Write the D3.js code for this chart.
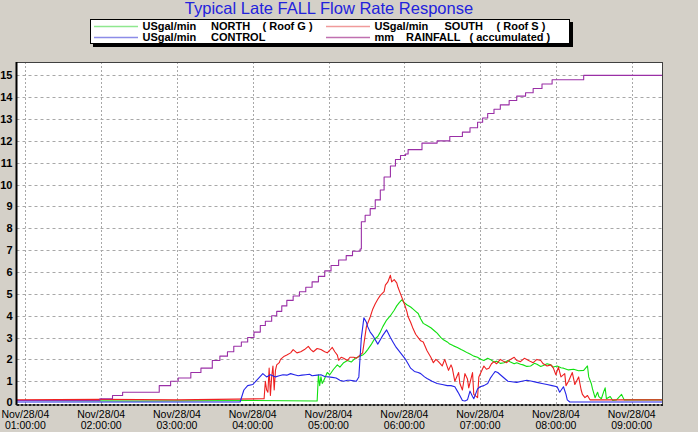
<!DOCTYPE html>
<html>
<head>
<meta charset="utf-8">
<script src="https://cdn.jsdelivr.net/npm/d3@7/dist/d3.min.js"></script>
<style>
  body { margin: 0; background: #d4d0c8; }
  svg { display: block; font-family: Arial, "Liberation Sans", sans-serif; }
</style>
</head>
<body>
<div id="main"></div>
<script>
const DAY = "2004-11-28";
const TITLE = "Typical Late FALL Flow Rate Response";

// legend labels, split in columns (unit, name, note)
const legendLabels = [
    ["USgal/min", "NORTH", "( Roof G )"],
    ["USgal/min", "SOUTH", "( Roof S )"],
    ["USgal/min", "CONTROL", ""],
    ["mm", "RAINFALL", "( accumulated )"]
];

const yTicks = [0, 1, 2, 3, 4, 5, 6, 7, 8, 9, 10, 11, 12, 13, 14, 15];
const xTicks = ["01:00", "02:00", "03:00", "04:00", "05:00", "06:00", "07:00", "08:00", "09:00"];
const timeRange = ["00:53", "09:24"];

// accumulated rainfall (mm), stepped
const rainfall = [
    ["00:53", 0.12], ["01:59", 0.2], ["02:09", 0.35], ["02:17", 0.5], ["02:46", 0.8], ["02:55", 1.0],
    ["03:01", 1.15], ["03:11", 1.4], ["03:19", 1.6], ["03:28", 1.95], ["03:34", 2.15], ["03:40", 2.35],
    ["03:45", 2.6], ["03:51", 2.8], ["03:56", 3.0], ["04:01", 3.25], ["04:06", 3.55], ["04:10", 3.75],
    ["04:15", 4.0], ["04:19", 4.2], ["04:23", 4.45], ["04:27", 4.7], ["04:32", 4.9], ["04:37", 5.1],
    ["04:42", 5.3], ["04:47", 5.55], ["04:52", 5.8], ["04:57", 6.05], ["05:02", 6.3], ["05:08", 6.55],
    ["05:14", 6.75], ["05:19", 6.95], ["05:25", 7.05], ["05:26", 8.3], ["05:29", 8.6], ["05:33", 8.9],
    ["05:37", 9.3], ["05:41", 9.75], ["05:44", 10.35], ["05:49", 10.85], ["05:53", 11.15], ["05:57", 11.33],
    ["06:01", 11.4], ["06:03", 11.6], ["06:14", 11.9], ["06:26", 12.0], ["06:36", 12.2], ["06:46", 12.4],
    ["06:52", 12.6], ["06:58", 12.85], ["07:02", 13.05], ["07:06", 13.25], ["07:11", 13.45], ["07:16", 13.65],
    ["07:23", 13.85], ["07:29", 14.05], ["07:36", 14.2], ["07:42", 14.4], ["07:49", 14.6], ["07:57", 14.8],
    ["08:22", 15.0], ["09:24", 15.0]
];

// NORTH (Roof G) flow, USgal/min
const north = [
    ["00:53", 0.12], ["02:30", 0.1], ["04:00", 0.12], ["04:51", 0.1], ["04:52", 1.3], ["04:53", 0.8],
    ["04:54", 1.2], ["04:55", 0.9], ["04:56", 1.0], ["04:59", 1.4], ["05:01", 1.3], ["05:04", 1.55],
    ["05:07", 1.75], ["05:09", 1.65], ["05:12", 1.85], ["05:15", 1.95], ["05:18", 1.88], ["05:21", 2.05],
    ["05:23", 2.1], ["05:27", 2.2], ["05:29", 2.3], ["05:31", 2.45], ["05:34", 2.7], ["05:36", 2.9],
    ["05:39", 3.05], ["05:41", 3.25], ["05:43", 3.5], ["05:46", 3.8], ["05:49", 4.0], ["05:52", 4.25],
    ["05:54", 4.45], ["05:56", 4.6], ["05:58", 4.73], ["06:00", 4.6], ["06:02", 4.5], ["06:05", 4.4],
    ["06:07", 4.3], ["06:09", 4.2], ["06:11", 4.1], ["06:13", 3.85], ["06:15", 3.65], ["06:18", 3.55],
    ["06:21", 3.45], ["06:24", 3.3], ["06:26", 3.2], ["06:29", 3.0], ["06:31", 2.9], ["06:34", 2.8],
    ["06:36", 2.7], ["06:39", 2.62], ["06:42", 2.55], ["06:45", 2.45], ["06:47", 2.4], ["06:50", 2.3],
    ["06:52", 2.25], ["06:55", 2.15], ["06:58", 2.1], ["07:00", 2.02], ["07:03", 1.95], ["07:06", 2.05],
    ["07:08", 2.0], ["07:11", 1.88], ["07:13", 1.92], ["07:16", 1.82], ["07:19", 1.85], ["07:22", 1.95],
    ["07:24", 1.88], ["07:27", 1.8], ["07:29", 1.85], ["07:32", 1.78], ["07:34", 1.75], ["07:37", 1.68],
    ["07:40", 1.7], ["07:43", 1.82], ["07:45", 1.78], ["07:48", 1.68], ["07:50", 1.72], ["07:53", 1.8],
    ["07:56", 1.75], ["07:58", 1.65], ["08:01", 1.7], ["08:04", 1.62], ["08:06", 1.6], ["08:10", 1.52],
    ["08:14", 1.55], ["08:18", 1.48], ["08:22", 1.5], ["08:25", 1.7], ["08:26", 1.2], ["08:28", 0.9],
    ["08:29", 0.65], ["08:31", 0.25], ["08:33", 0.5], ["08:34", 0.3], ["08:36", 0.2], ["08:38", 0.55],
    ["08:39", 0.7], ["08:40", 0.2], ["08:43", 0.3], ["08:45", 0.12], ["08:48", 0.15], ["08:52", 0.4],
    ["08:54", 0.15], ["09:24", 0.15]
];

// SOUTH (Roof S) flow, USgal/min
const south = [
    ["00:53", 0.15], ["02:00", 0.17], ["03:00", 0.15], ["04:09", 0.2], ["04:10", 1.0], ["04:11", 0.6],
    ["04:12", 0.5], ["04:13", 1.6], ["04:14", 0.35], ["04:15", 1.2], ["04:16", 1.7], ["04:17", 0.6],
    ["04:18", 1.5], ["04:19", 1.75], ["04:21", 1.85], ["04:22", 2.0], ["04:25", 2.15], ["04:27", 2.2],
    ["04:30", 2.3], ["04:32", 2.45], ["04:35", 2.3], ["04:38", 2.35], ["04:41", 2.45], ["04:44", 2.6],
    ["04:46", 2.45], ["04:48", 2.35], ["04:51", 2.5], ["04:54", 2.45], ["04:57", 2.35], ["04:59", 2.3],
    ["05:01", 2.42], ["05:03", 2.55], ["05:05", 2.35], ["05:07", 2.2], ["05:08", 1.96], ["05:10", 2.1],
    ["05:12", 2.05], ["05:15", 1.95], ["05:17", 2.1], ["05:20", 2.1], ["05:22", 2.05], ["05:24", 2.15],
    ["05:27", 2.3], ["05:28", 2.7], ["05:30", 3.5], ["05:33", 3.94], ["05:35", 4.3], ["05:37", 4.55],
    ["05:39", 4.75], ["05:41", 4.93], ["05:44", 5.1], ["05:45", 5.4], ["05:47", 5.55], ["05:48", 5.7],
    ["05:49", 5.85], ["05:50", 5.55], ["05:52", 5.65], ["05:54", 5.5], ["05:55", 5.3], ["05:57", 5.0],
    ["06:00", 4.55], ["06:02", 4.2], ["06:03", 3.95], ["06:05", 3.7], ["06:07", 3.4], ["06:09", 3.15],
    ["06:11", 3.0], ["06:13", 2.85], ["06:15", 2.8], ["06:18", 2.4], ["06:21", 2.1], ["06:23", 1.85],
    ["06:25", 2.0], ["06:27", 1.9], ["06:30", 1.7], ["06:32", 2.0], ["06:35", 1.5], ["06:37", 1.75],
    ["06:38", 1.6], ["06:40", 1.0], ["06:43", 1.4], ["06:44", 0.9], ["06:46", 0.6], ["06:48", 1.35],
    ["06:50", 1.1], ["06:51", 0.7], ["06:54", 1.4], ["06:55", 0.4], ["06:58", 0.25], ["06:59", 1.2],
    ["07:01", 1.45], ["07:03", 1.7], ["07:05", 1.55], ["07:07", 1.6], ["07:09", 1.8], ["07:11", 1.9],
    ["07:13", 1.8], ["07:16", 2.0], ["07:19", 1.9], ["07:21", 1.85], ["07:24", 2.0], ["07:27", 2.1],
    ["07:29", 1.95], ["07:32", 1.9], ["07:35", 2.05], ["07:37", 2.0], ["07:40", 1.9], ["07:42", 1.85],
    ["07:45", 2.0], ["07:48", 1.95], ["07:50", 1.8], ["07:53", 1.7], ["07:56", 1.75], ["07:58", 1.6],
    ["08:00", 1.3], ["08:02", 1.65], ["08:04", 1.2], ["08:07", 1.35], ["08:08", 0.8], ["08:10", 1.0],
    ["08:13", 1.4], ["08:15", 0.85], ["08:18", 1.2], ["08:20", 0.6], ["08:21", 0.4], ["08:23", 0.25],
    ["08:25", 0.35], ["08:27", 0.15], ["09:24", 0.15]
];

// CONTROL flow, USgal/min
const control = [
    ["00:53", 0.05], ["03:50", 0.05], ["03:53", 0.6], ["03:56", 0.8], ["04:00", 0.85], ["04:04", 1.1],
    ["04:08", 1.35], ["04:11", 1.2], ["04:14", 1.3], ["04:18", 1.2], ["04:21", 1.25], ["04:24", 1.3],
    ["04:27", 1.28], ["04:30", 1.35], ["04:33", 1.3], ["04:36", 1.25], ["04:39", 1.28], ["04:42", 1.3],
    ["04:45", 1.32], ["04:47", 1.25], ["04:51", 1.28], ["04:54", 1.3], ["04:57", 1.22], ["05:00", 1.2],
    ["05:03", 1.18], ["05:06", 1.15], ["05:09", 1.05], ["05:12", 1.0], ["05:15", 1.05], ["05:17", 1.05],
    ["05:20", 1.02], ["05:22", 1.0], ["05:24", 1.2], ["05:26", 3.0], ["05:28", 3.9], ["05:30", 3.7],
    ["05:31", 3.5], ["05:33", 3.25], ["05:35", 3.1], ["05:36", 3.0], ["05:39", 2.7], ["05:41", 2.9],
    ["05:43", 3.1], ["05:46", 3.35], ["05:49", 3.0], ["05:51", 2.8], ["05:53", 2.6], ["05:55", 2.45],
    ["05:57", 2.3], ["05:59", 2.15], ["06:01", 2.0], ["06:03", 1.8], ["06:05", 1.6], ["06:08", 1.45],
    ["06:11", 1.4], ["06:13", 1.35], ["06:16", 1.2], ["06:18", 1.13], ["06:22", 1.0], ["06:26", 0.9],
    ["06:30", 0.85], ["06:34", 0.8], ["06:37", 0.8], ["06:40", 0.75], ["06:42", 0.55], ["06:43", 0.45],
    ["06:46", 0.12], ["06:48", 0.1], ["06:50", 0.15], ["06:52", 0.55], ["06:54", 0.3], ["06:55", 0.2],
    ["06:58", 0.65], ["07:00", 0.75], ["07:03", 0.8], ["07:06", 0.9], ["07:08", 1.13], ["07:10", 1.3],
    ["07:12", 1.45], ["07:14", 1.4], ["07:16", 1.3], ["07:19", 1.15], ["07:22", 1.0], ["07:25", 0.98],
    ["07:29", 0.95], ["07:33", 1.0], ["07:37", 1.05], ["07:41", 1.0], ["07:45", 0.95], ["07:49", 0.9],
    ["07:53", 0.85], ["07:57", 0.8], ["08:01", 0.75], ["08:03", 0.5], ["08:06", 0.75], ["08:08", 0.4],
    ["08:09", 0.15], ["08:11", 0.05], ["09:24", 0.05]
];

const ctx = {
    W: 698, H: 432,
    left: 16.5, right: 662, top: 62, bottom: 404,
};

const parseT = d3.timeParse("%Y-%m-%d %H:%M");
const toDate = t => parseT(DAY + " " + t);

function createViz() {
    let svg = d3.select("#main").append("svg")
        .attr("width", ctx.W)
        .attr("height", ctx.H);

    svg.append("rect").attr("width", ctx.W).attr("height", ctx.H).attr("fill", "#d4d0c8");

    let x = d3.scaleTime()
        .domain([toDate(timeRange[0]), toDate(timeRange[1])])
        .range([ctx.left, ctx.right]);
    let y = d3.scaleLinear()
        .domain([-0.04, 15.61])
        .range([ctx.bottom, ctx.top]);

    // plot background
    svg.append("rect")
        .attr("x", ctx.left).attr("y", ctx.top)
        .attr("width", ctx.right - ctx.left).attr("height", ctx.bottom - ctx.top)
        .attr("fill", "#ffffff");

    // grid
    let grid = svg.append("g");
    grid.selectAll("line.h")
        .data(yTicks.slice(1))
        .enter().append("line")
        .attr("x1", ctx.left).attr("x2", ctx.right)
        .attr("y1", d => Math.round(y(d)) + 0.5).attr("y2", d => Math.round(y(d)) + 0.5)
        .attr("stroke", "#a8a8a8").attr("stroke-dasharray", "3,3");
    grid.selectAll("line.v")
        .data(xTicks)
        .enter().append("line")
        .attr("x1", d => Math.round(x(toDate(d))) + 0.5).attr("x2", d => Math.round(x(toDate(d))) + 0.5)
        .attr("y1", ctx.top).attr("y2", ctx.bottom)
        .attr("stroke", "#a8a8a8").attr("stroke-dasharray", "2,2");

    // series
    let line = d3.line()
        .x(d => x(toDate(d[0])))
        .y(d => y(d[1]));
    let stepLine = d3.line()
        .x(d => x(toDate(d[0])))
        .y(d => y(d[1]))
        .curve(d3.curveStepAfter);

    let series = [
        { data: north, color: "#10e010", gen: line },
        { data: south, color: "#ee2020", gen: line },
        { data: control, color: "#2424e8", gen: line },
        { data: rainfall, color: "#9a2fa6", gen: stepLine },
    ];
    svg.append("g").selectAll("path")
        .data(series)
        .enter().append("path")
        .attr("d", d => d.gen(d.data))
        .attr("fill", "none")
        .attr("stroke", d => d.color)
        .attr("stroke-width", 1.1)
        .attr("stroke-linejoin", "round");

    // frame
    svg.append("line")
        .attr("x1", ctx.left).attr("x2", ctx.right).attr("y1", ctx.top + 0.5).attr("y2", ctx.top + 0.5)
        .attr("stroke", "#404040");
    svg.append("line")
        .attr("x1", ctx.right + 0.5).attr("x2", ctx.right + 0.5).attr("y1", ctx.top).attr("y2", ctx.bottom)
        .attr("stroke", "#404040");
    svg.append("line")
        .attr("x1", ctx.left).attr("x2", ctx.left).attr("y1", ctx.top).attr("y2", ctx.bottom + 1)
        .attr("stroke", "#000").attr("stroke-width", 2);
    svg.append("line")
        .attr("x1", ctx.left).attr("x2", ctx.right + 1).attr("y1", ctx.bottom + 1).attr("y2", ctx.bottom + 1)
        .attr("stroke", "#202020").attr("stroke-width", 2).attr("stroke-dasharray", "3,1");

    // y tick labels
    svg.append("g").selectAll("text")
        .data(yTicks)
        .enter().append("text")
        .attr("x", 12.5)
        .attr("y", d => y(d) + (d === 0 ? 2.5 : 4))
        .attr("text-anchor", "end")
        .attr("font-size", "11px")
        .attr("font-weight", "bold")
        .attr("fill", "#000")
        .text(d => d);

    // x tick labels
    let fmtDay = d3.timeFormat("%b/%d/%y");
    let fmtTime = d3.timeFormat("%H:%M:%S");
    let xl = svg.append("g").selectAll("g")
        .data(xTicks)
        .enter().append("g")
        .attr("transform", d => "translate(" + x(toDate(d)) + ",0)");
    xl.append("text")
        .attr("y", 417.5).attr("text-anchor", "middle")
        .attr("font-size", "10.5px").attr("fill", "#000")
        .text(d => fmtDay(toDate(d)));
    xl.append("text")
        .attr("y", 428.5).attr("text-anchor", "middle")
        .attr("font-size", "10.5px").attr("fill", "#000")
        .text(d => fmtTime(toDate(d)));

    // title
    svg.append("text")
        .attr("x", 329).attr("y", 13.5)
        .attr("text-anchor", "middle")
        .attr("font-size", "16.5px")
        .attr("fill", "#2222dd")
        .text(TITLE);

    // legend
    let lg = svg.append("g");
    lg.append("rect").attr("x", 93).attr("y", 22).attr("width", 480).attr("height", 25).attr("fill", "#000");
    lg.append("rect").attr("x", 90.5).attr("y", 19.5).attr("width", 479).attr("height", 24)
        .attr("fill", "#fff").attr("stroke", "#000");
    let legendColors = ["#8fe88f", "#f09a9a", "#8c8ce8", "#c070b0"];
    let cols = [94, 326];
    let rows = [26, 37];
    let partX = [[0, 68.5, 120], [0, 70, 122], [0, 68.5, 0], [0, 31.5, 95]];
    legendLabels.forEach((lab, i) => {
        let cx = cols[i % 2], cy = rows[Math.floor(i / 2)];
        lg.append("line")
            .attr("x1", cx).attr("x2", cx + 44)
            .attr("y1", cy + 0.5).attr("y2", cy + 0.5)
            .attr("stroke", legendColors[i]).attr("stroke-width", 1.5);
        lab.forEach((s, j) => {
            if (!s) return;
            lg.append("text")
                .attr("x", cx + 48.5 + partX[i][j])
                .attr("y", cy + 4)
                .attr("font-size", "11px")
                .attr("font-weight", "bold")
                .attr("fill", "#000")
                .text(s);
        });
    });
}

createViz();
</script>
</body>
</html>
